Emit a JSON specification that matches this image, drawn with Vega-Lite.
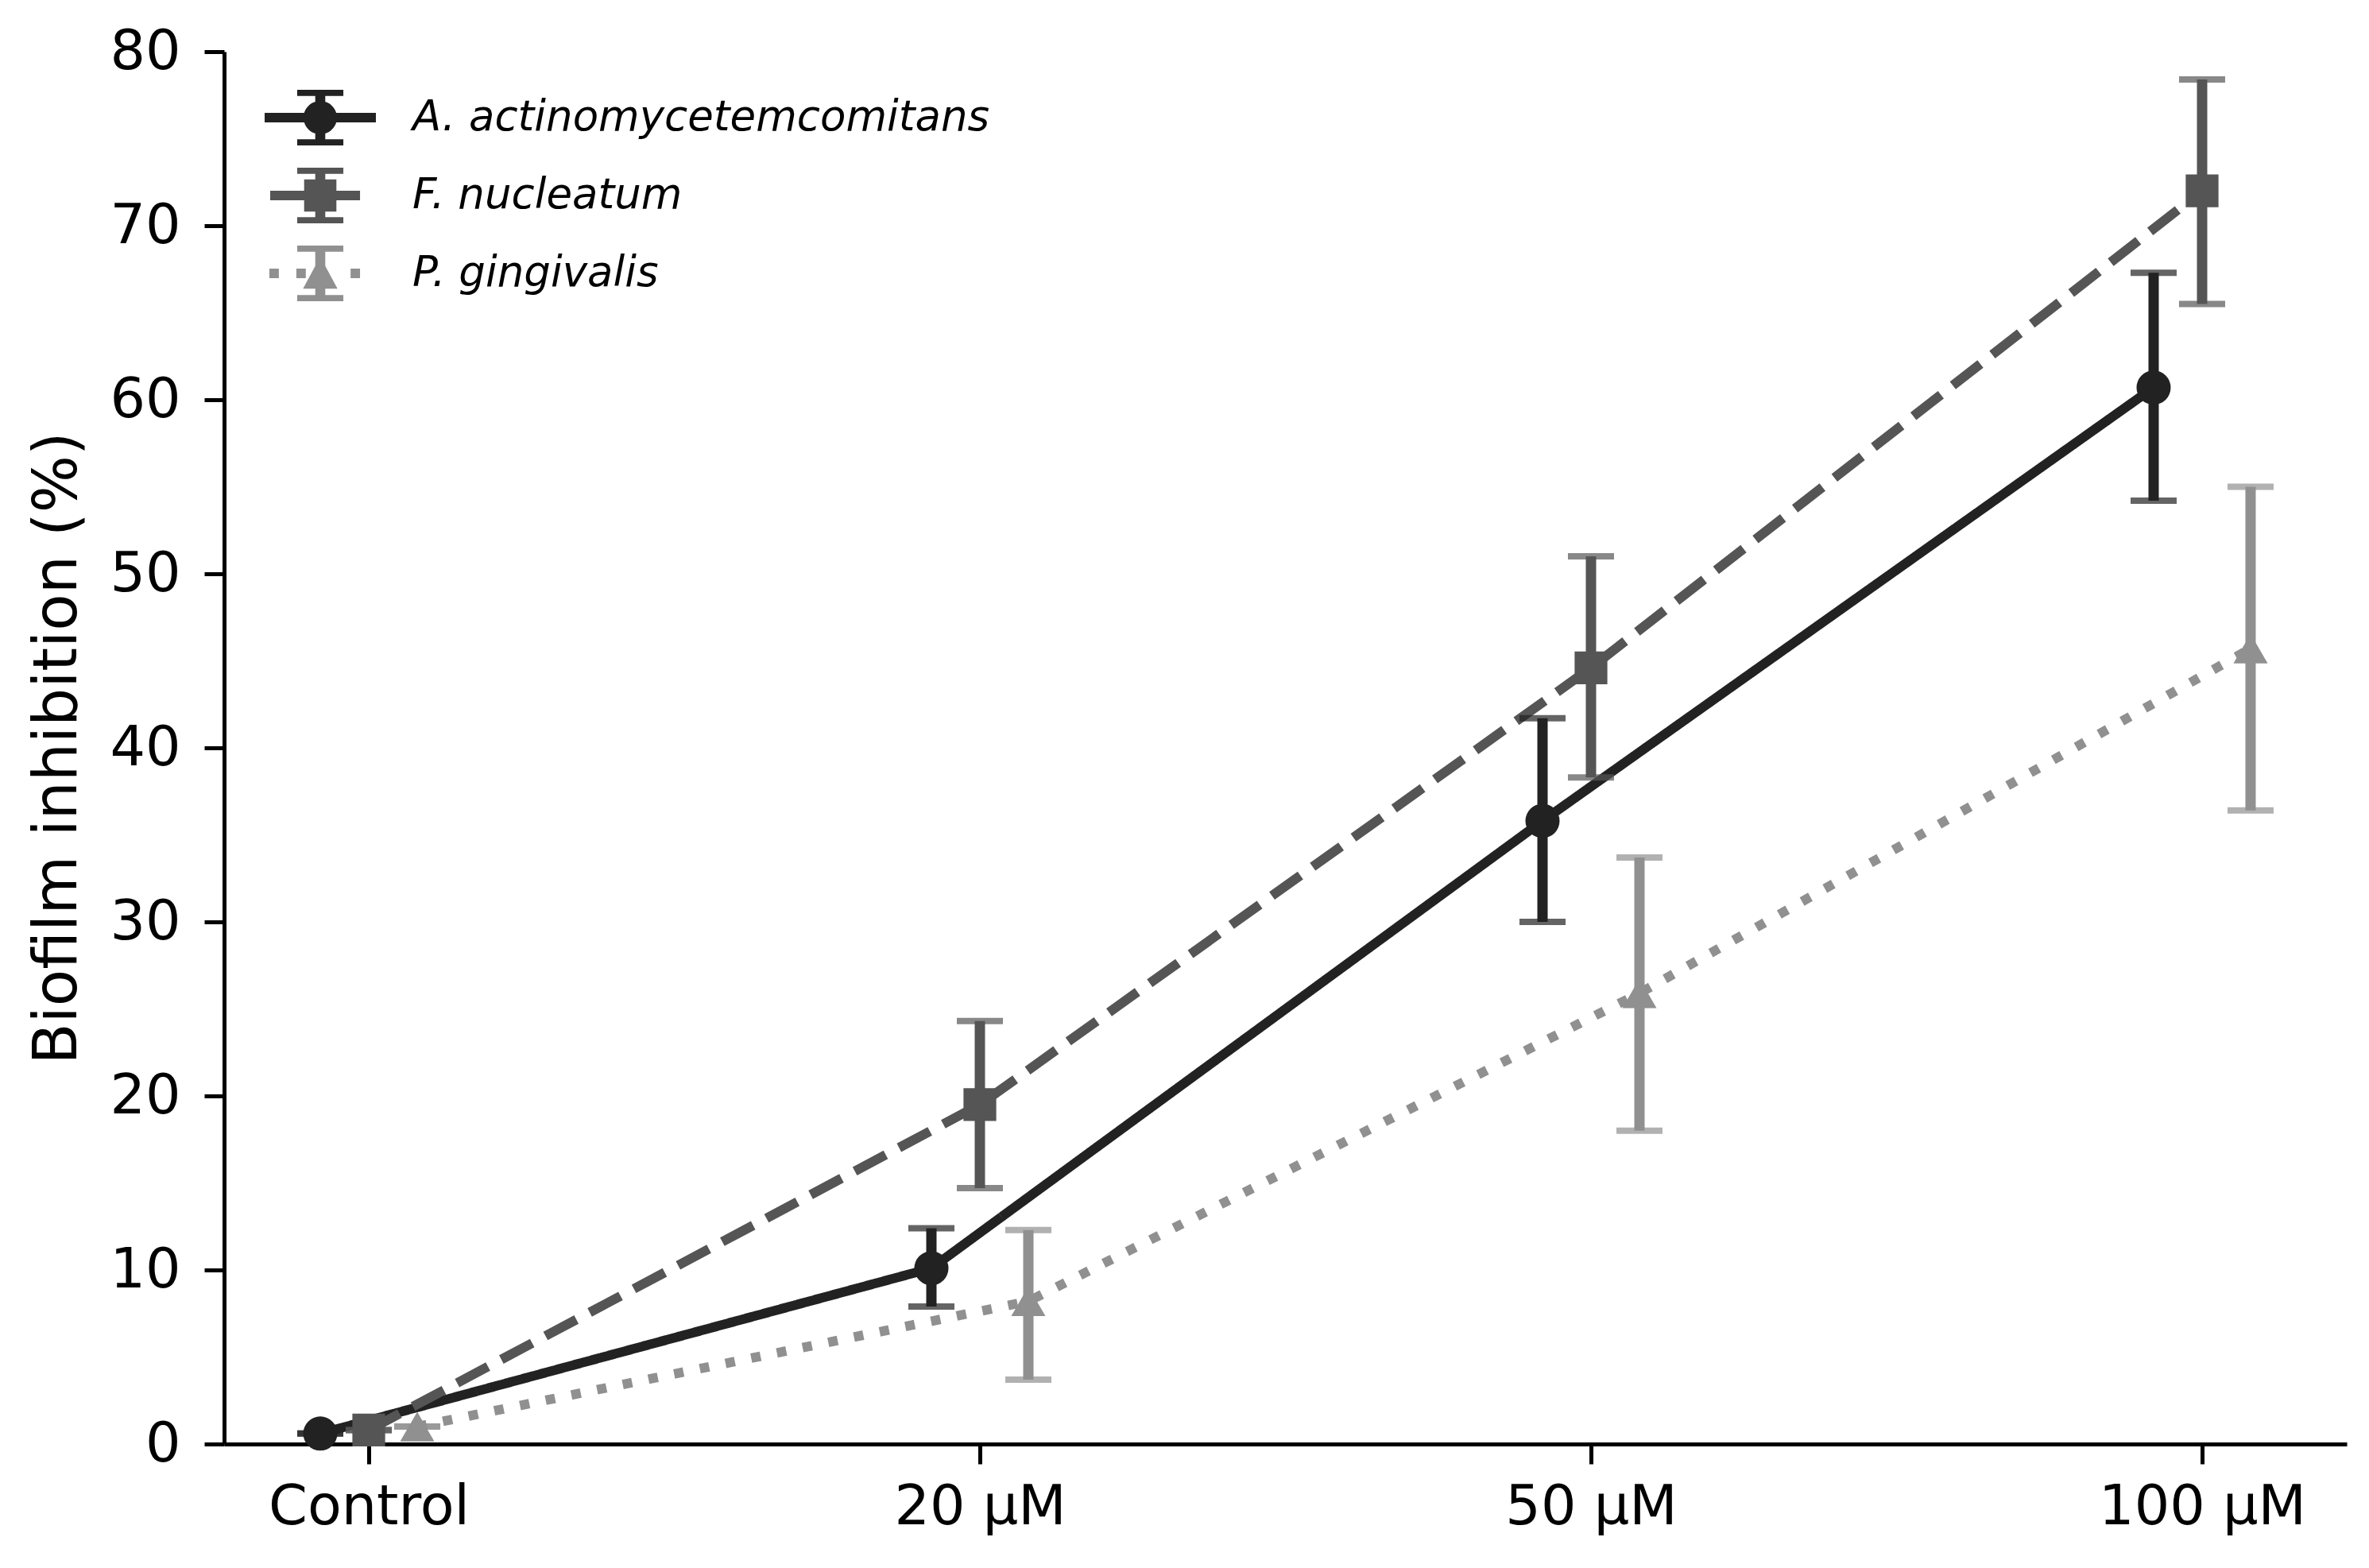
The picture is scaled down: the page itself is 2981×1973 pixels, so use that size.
{
  "$schema": "https://vega.github.io/schema/vega-lite/v6.json",
  "width": 2671,
  "height": 1752,
  "autosize": "none",
  "padding": {"left": 282, "top": 65, "right": 28, "bottom": 156},
  "background": "white",
  "data": {
    "values": [
      {"dose": "Control", "series": "A. actinomycetemcomitans", "mean": 0.6, "lo": 0.6, "hi": 0.6},
      {"dose": "20 µM", "series": "A. actinomycetemcomitans", "mean": 10.1, "lo": 7.9, "hi": 12.4},
      {"dose": "50 µM", "series": "A. actinomycetemcomitans", "mean": 35.8, "lo": 30.0, "hi": 41.7},
      {"dose": "100 µM", "series": "A. actinomycetemcomitans", "mean": 60.7, "lo": 54.2, "hi": 67.3},
      {"dose": "Control", "series": "F. nucleatum", "mean": 0.8, "lo": 0.8, "hi": 0.8},
      {"dose": "20 µM", "series": "F. nucleatum", "mean": 19.5, "lo": 14.7, "hi": 24.3},
      {"dose": "50 µM", "series": "F. nucleatum", "mean": 44.6, "lo": 38.3, "hi": 51.0},
      {"dose": "100 µM", "series": "F. nucleatum", "mean": 72.0, "lo": 65.5, "hi": 78.4},
      {"dose": "Control", "series": "P. gingivalis", "mean": 1.0, "lo": 1.0, "hi": 1.0},
      {"dose": "20 µM", "series": "P. gingivalis", "mean": 8.2, "lo": 3.7, "hi": 12.3},
      {"dose": "50 µM", "series": "P. gingivalis", "mean": 25.9, "lo": 18.0, "hi": 33.7},
      {"dose": "100 µM", "series": "P. gingivalis", "mean": 45.7, "lo": 36.4, "hi": 55.0}
    ]
  },
  "encoding": {
    "x": {
      "field": "dose",
      "type": "ordinal",
      "sort": ["Control", "20 µM", "50 µM", "100 µM"],
      "scale": {"type": "point", "padding": 0.2367},
      "axis": {"title": null, "labelAngle": 0, "labelPadding": 20, "labelLimit": 1000}
    },
    "xOffset": {
      "field": "series",
      "type": "nominal",
      "scale": {
        "type": "point",
        "padding": 0,
        "domain": ["A. actinomycetemcomitans", "F. nucleatum", "P. gingivalis"],
        "range": [-61, 61]
      }
    },
    "y": {
      "field": "mean",
      "type": "quantitative",
      "scale": {"domain": [0, 80], "nice": false, "zero": true},
      "axis": {
        "title": "Biofilm inhibition (%)",
        "values": [0, 10, 20, 30, 40, 50, 60, 70, 80],
        "labelPadding": 30,
        "titlePadding": 26
      }
    }
  },
  "layer": [
    {
      "mark": {"type": "line", "strokeWidth": 12, "strokeCap": "butt"},
      "encoding": {
        "color": {
          "field": "series",
          "type": "nominal",
          "scale": {"range": ["#222222", "#555555", "#909090"]},
          "legend": null
        },
        "strokeDash": {
          "field": "series",
          "type": "nominal",
          "scale": {"range": [[1, 0], [44, 19], [12, 21]]},
          "legend": null
        }
      }
    },
    {
      "mark": {"type": "rule", "strokeWidth": 13},
      "encoding": {
        "y": {"field": "lo", "type": "quantitative"},
        "y2": {"field": "hi"},
        "color": {"field": "series", "type": "nominal", "legend": null}
      }
    },
    {
      "mark": {"type": "tick", "orient": "horizontal", "size": 58, "thickness": 8},
      "encoding": {
        "y": {"field": "lo", "type": "quantitative"},
        "color": {"field": "series", "type": "nominal", "legend": null}
      }
    },
    {
      "mark": {"type": "tick", "orient": "horizontal", "size": 58, "thickness": 8},
      "encoding": {
        "y": {"field": "hi", "type": "quantitative"},
        "color": {"field": "series", "type": "nominal", "legend": null}
      }
    },
    {
      "transform": [{"filter": "datum.series === 'A. actinomycetemcomitans'"}],
      "mark": {"type": "point", "filled": true, "opacity": 1, "shape": "circle", "size": 1850, "color": "#222222"}
    },
    {
      "transform": [{"filter": "datum.series === 'F. nucleatum'"}],
      "mark": {"type": "point", "filled": true, "opacity": 1, "shape": "square", "size": 1700, "color": "#555555"}
    },
    {
      "transform": [{"filter": "datum.series === 'P. gingivalis'"}],
      "mark": {"type": "point", "filled": true, "opacity": 1, "shape": "triangle-up", "size": 1850, "color": "#909090"}
    },
    {
      "transform": [{"filter": "false"}],
      "mark": {"type": "point", "filled": true, "opacity": 1},
      "encoding": {
        "fill": {
          "field": "series",
          "type": "nominal",
          "scale": {
            "domain": ["A. actinomycetemcomitans", "F. nucleatum", "P. gingivalis"],
            "range": ["#222222", "#555555", "#909090"]
          },
          "legend": {
            "title": null,
            "orient": "none",
            "legendX": 86,
            "legendY": 48,
            "padding": 0,
            "labelFont": "DejaVu Sans",
            "labelFontStyle": "italic",
            "labelFontSize": 53,
            "labelColor": "black",
            "labelLimit": 2000,
            "labelOffset": 81,
            "symbolSize": 4900,
            "symbolStrokeWidth": 0,
            "rowPadding": 28,
            "encode": {"symbols": {"update": {"opacity": {"value": 1}, "strokeWidth": {"value": 0}}}}
          }
        },
        "shape": {
          "field": "series",
          "type": "nominal",
          "scale": {
            "domain": ["A. actinomycetemcomitans", "F. nucleatum", "P. gingivalis"],
            "range": [
              "M-2,-0.17H2V0.17H-2Z M-0.18,-0.9H0.18V0.9H-0.18Z M-0.83,-1H0.83V-0.78H-0.83Z M-0.83,0.78H0.83V1H-0.83Z M-0.6,0A0.6,0.6,0,1,1,0.6,0A0.6,0.6,0,1,1,-0.6,0Z",
              "M-1.8,-0.17H1.43V0.17H-1.8Z M-0.18,-0.9H0.18V0.9H-0.18Z M-0.83,-1H0.83V-0.78H-0.83Z M-0.83,0.78H0.83V1H-0.83Z M-0.58,-0.58H0.58V0.58H-0.58Z",
              "M-1.83,-0.17H-1.49V0.17H-1.83Z M-0.86,-0.17H-0.52V0.17H-0.86Z M1.09,-0.17H1.43V0.17H1.09Z M-0.18,-0.9H0.18V0.9H-0.18Z M-0.83,-1H0.83V-0.78H-0.83Z M-0.83,0.78H0.83V1H-0.83Z M0,-0.6L0.62,0.55H-0.62Z"
            ]
          }
        }
      }
    }
  ],
  "config": {
    "view": {"stroke": null},
    "font": "DejaVu Sans",
    "axis": {
      "grid": false,
      "domainColor": "black",
      "domainWidth": 5,
      "tickColor": "black",
      "tickWidth": 5,
      "tickSize": 25,
      "labelFont": "DejaVu Sans",
      "labelFontSize": 70,
      "labelColor": "black",
      "titleFont": "DejaVu Sans",
      "titleFontSize": 76,
      "titleFontWeight": "normal",
      "titleColor": "black"
    }
  }
}
